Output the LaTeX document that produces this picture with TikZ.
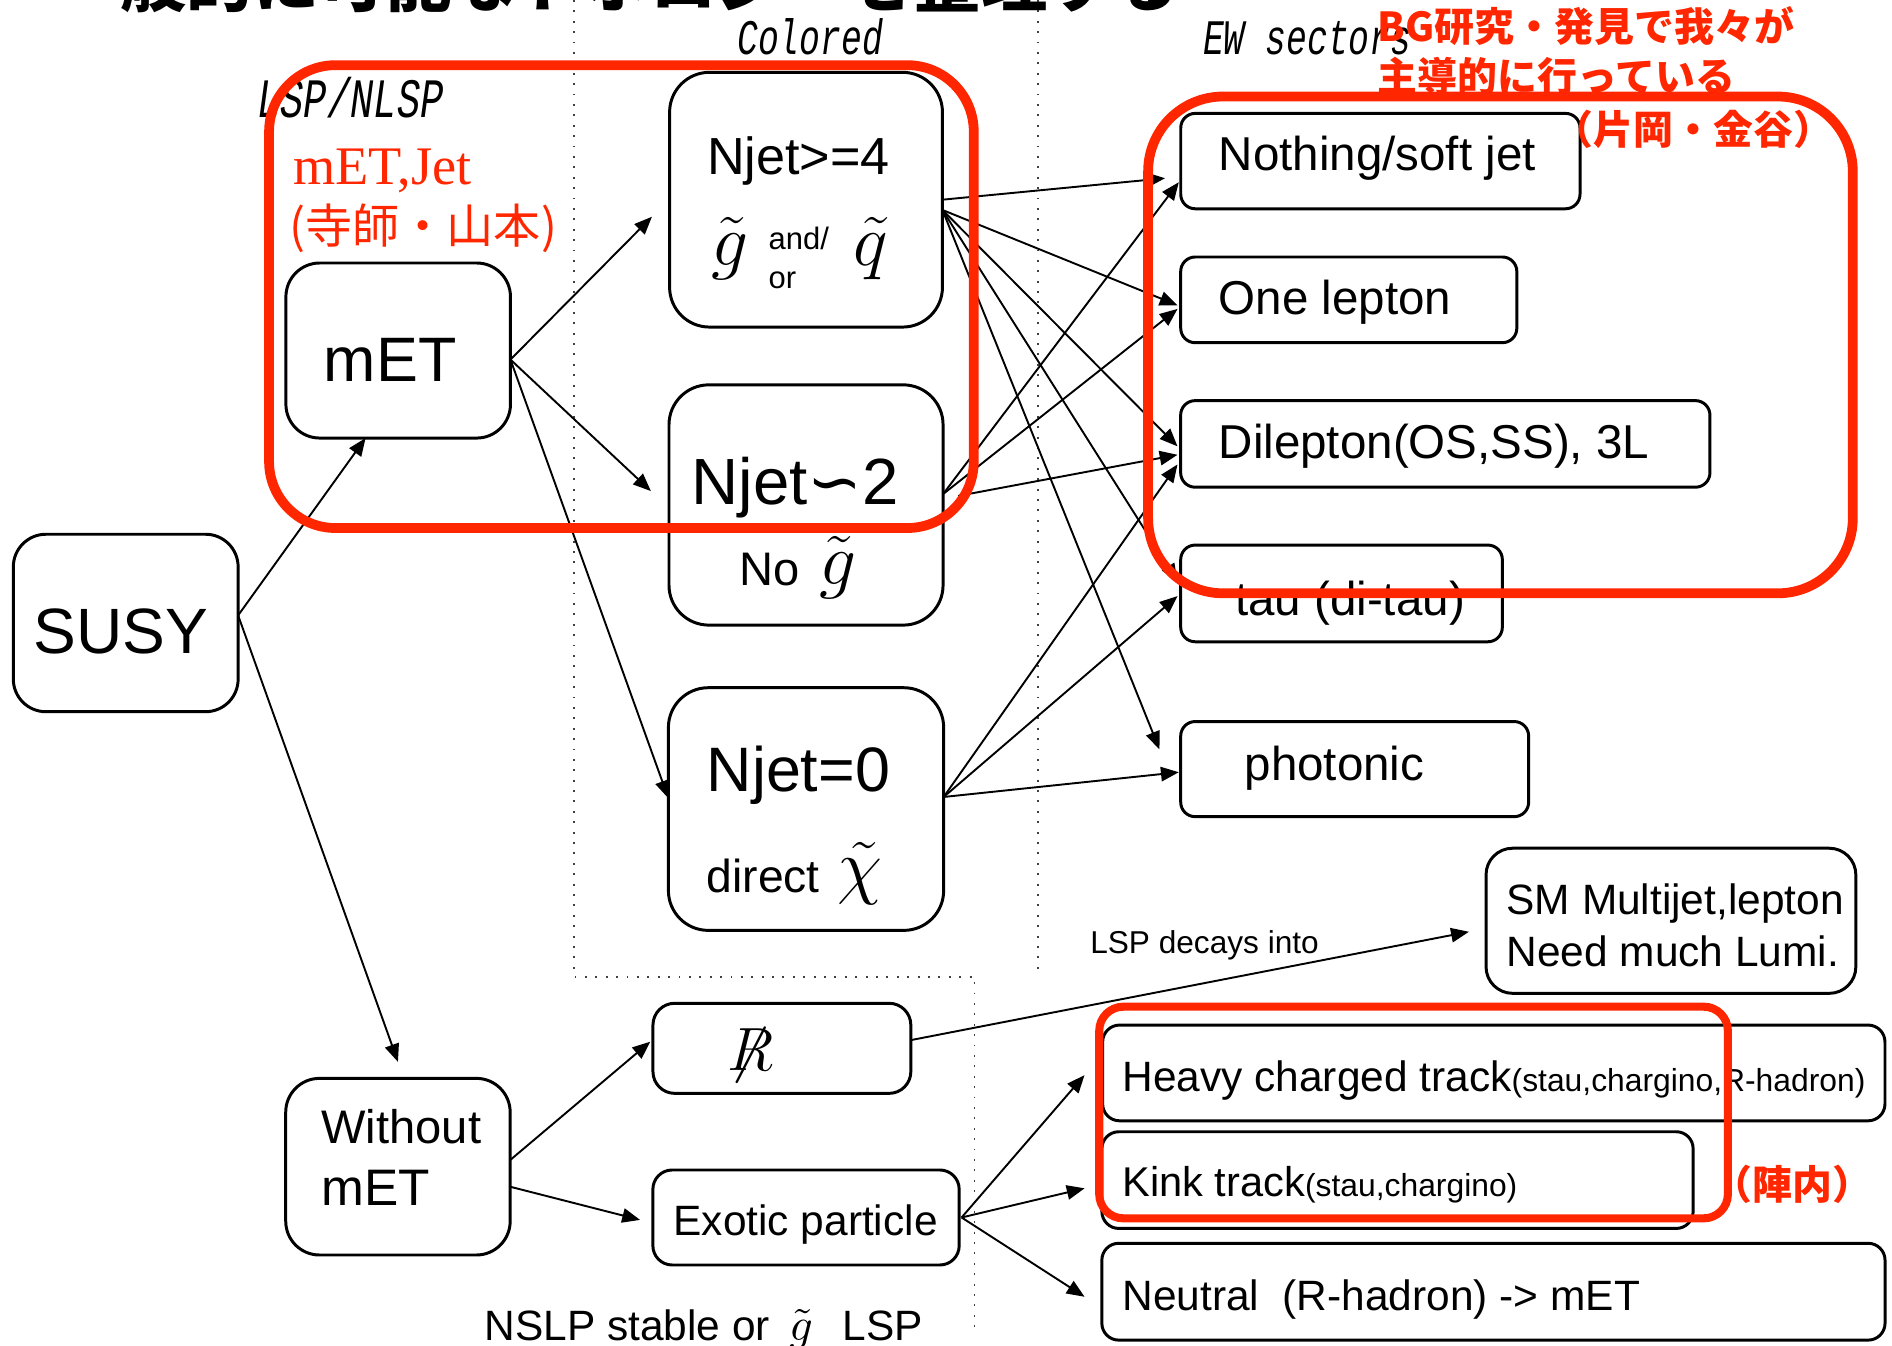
\documentclass[tikz,border=0pt]{standalone}
\usepackage{fontspec}
\setmainfont{Liberation Sans}
\newfontfamily\serifft{Liberation Serif}
\newfontfamily\headfont{Liberation Mono}[FakeStretch=0.7]
\newfontfamily\cjk{Noto Sans CJK JP}
\newfontfamily\djv{DejaVu Sans}
\usetikzlibrary{arrows.meta}
\definecolor{redc}{RGB}{255,38,0}
\newcommand\fsz[1]{\fontsize{#1}{#1}\selectfont}
\begin{document}
\begin{tikzpicture}[x=0.01cm,y=-0.01cm,
  bx/.style={draw, line width=0.7pt, inner sep=0pt, outer sep=0pt},
  arr/.style={line width=0.45pt, -{Triangle[length=4.2pt,width=3.4pt]}},
  lab/.style={inner sep=0pt, outer sep=0pt, anchor=base west},
  labc/.style={inner sep=0pt, outer sep=0pt, anchor=base},
  redbox/.style={draw=redc, line width=2.3pt},
  dots/.style={dotted, line width=0.45pt, black!75},
  redtxt/.style={text=redc}
]
\useasboundingbox (0,0) rectangle (1568,1115);

% dotted separators
\draw[dots] (475.7,0) -- (475.7,809.4) -- (807.6,809.4) -- (807.6,1099.5);
\draw[dots] (860.3,0) -- (860.3,809.4);

% title (cut at the top)
\node[lab] (title) at (100,5) {\cjk\bfseries\fsz{15.6}般的に可能なトポロジーを整理する};

% headings
\node[lab] (hcol) at (611,45) {\headfont\itshape\fsz{11.7}Colored};
\node[lab] (hlsp) at (213,97) {\headfont\itshape\fsz{13.1}LSP/NLSP};
\node[lab] (hew) at (997,45) {\headfont\itshape\fsz{11.7}EW sectors};

% boxes
\node[bx, rounded corners=0.27cm, minimum width=1.862cm, minimum height=1.47cm] (susy) at (104.2,516.3) {};
\node[bx, rounded corners=0.28cm, minimum width=1.86cm, minimum height=1.45cm] (met) at (330,290.5) {};
\node[bx, rounded corners=0.33cm, minimum width=2.26cm, minimum height=2.11cm] (n4) at (668,165.5) {};
\node[bx, rounded corners=0.33cm, minimum width=2.27cm, minimum height=1.99cm] (n2) at (668,418.5) {};
\node[bx, rounded corners=0.33cm, minimum width=2.28cm, minimum height=2.01cm] (n0) at (668,670.5) {};
\node[bx, rounded corners=0.12cm, minimum width=3.307cm, minimum height=0.79cm] (nothing) at (1144,133.5) {};
\node[bx, rounded corners=0.12cm, minimum width=2.784cm, minimum height=0.71cm] (one) at (1117.8,248.5) {};
\node[bx, rounded corners=0.12cm, minimum width=4.384cm, minimum height=0.717cm] (dil) at (1197.8,367.9) {};
\node[bx, rounded corners=0.12cm, minimum width=2.664cm, minimum height=0.801cm] (tau) at (1111.8,491.8) {};
\node[bx, rounded corners=0.12cm, minimum width=2.882cm, minimum height=0.788cm] (pho) at (1122.7,637.4) {};
\node[bx, rounded corners=0.22cm, minimum width=3.063cm, minimum height=1.202cm] (sm) at (1384.8,763.1) {};
\node[bx, rounded corners=0.18cm, minimum width=2.136cm, minimum height=0.746cm] (rs) at (648,868.8) {};
\node[bx, rounded corners=0.16cm, minimum width=2.537cm, minimum height=0.787cm] (exo) at (668,1009) {};
\node[bx, rounded corners=0.28cm, minimum width=1.859cm, minimum height=1.463cm] (wo) at (329.8,966.9) {};
\node[bx, rounded corners=0.14cm, minimum width=6.48cm, minimum height=0.793cm] (heavy) at (1238,889.2) {};
\node[bx, rounded corners=0.14cm, minimum width=4.897cm, minimum height=0.801cm] (kink) at (1158.2,978) {};
\node[bx, rounded corners=0.14cm, minimum width=6.487cm, minimum height=0.802cm] (neutral) at (1237.7,1070.5) {};

% box texts
\node[labc] (tsusy) at (100,542) {\fsz{15.1}SUSY};
\node[lab] (tmet) at (268.5,316) {\fsz{14.8}mET};
\node[lab] (tn4) at (586,145) {\fsz{12.3}Njet>=4};
\node[lab] (tg1) at (590,220) {\fsz{16.5}$\tilde{g}$};
\node[lab] (tand) at (637,207) {\fsz{7.3}and/};
\node[lab] (tor) at (637,239) {\fsz{7.3}or};
\node[lab] (tq) at (707,220) {\fsz{16.5}$\tilde{q}$};
\node[lab] (tn2) at (573,418.5) {\fsz{15.4}Njet{\djv ∽}2};
\node[lab] (tno) at (612.5,485) {\fsz{11.1}No};
\node[lab] (tg2) at (679,484) {\fsz{16.5}$\tilde{g}$};
\node[lab] (tn0) at (585.7,656) {\fsz{14.8}Njet=0};
\node[lab] (tdir) at (585.7,740) {\fsz{10.9}direct};
\node[lab] (tchi) at (694,738) {\fsz{16.5}$\tilde{\chi}$};
\node[lab] (tnoth) at (1010,141) {\fsz{11.2}Nothing/soft jet};
\node[lab] (tone) at (1010,260.5) {\fsz{11.2}One lepton};
\node[lab] (tdil) at (1010,380) {\fsz{11.2}Dilepton(OS,SS), 3L};
\node[lab] (ttau) at (1023.6,510) {\fsz{11.2}tau (di-tau)};
\node[lab] (tpho) at (1031.5,646.5) {\fsz{11.2}photonic};
\node[lab] (tsm1) at (1248.6,758) {\fsz{10}SM Multijet,lepton};
\node[lab] (tsm2) at (1248.6,801) {\fsz{10}Need much Lumi.};
\node[lab] (trs) at (603,887) {\fsz{15.5}$\not\mathrel{R}$};
\node[lab] (texo) at (558.2,1023.6) {\fsz{10}Exotic particle};
\node[lab] (two1) at (266.4,947.6) {\fsz{11.1}Without};
\node[lab] (two2) at (266.4,998.7) {\fsz{12.1}mET};
\node[lab] (theavy) at (930.3,904.8) {\fsz{10}Heavy charged track{\fsz{7.5}(stau,chargino,R-hadron)}};
\node[lab] (tkink) at (930.3,991.8) {\fsz{9.8}Kink track{\fsz{7.5}(stau,chargino)}};
\node[lab] (tneu) at (930.3,1085.7) {\fsz{10}Neutral\ \ (R-hadron) -> mET};
\node[lab] (tlspd) at (903.6,790) {\fsz{7.45}LSP decays into};
\node[lab] (tnslp) at (401.7,1110.6) {\fsz{10}NSLP stable or\hspace{4.5pt}{\fsz{11.4}$\tilde{g}$}\hspace{7pt}LSP};

% connectors
\coordinate (sf) at ([yshift=0.063cm]susy.east);
\draw[arr] (sf) -- ([xshift=-0.27cm]met.south);
\draw[arr] (sf) -- ([yshift=0.137cm]wo.north);
\coordinate (mf) at ([yshift=-0.075cm]met.east);
\draw[arr] (mf) -- ([xshift=-0.146cm,yshift=-0.141cm]n4.west);
\draw[arr] (mf) -- ([xshift=-0.15cm,yshift=0.115cm]n2.west);
\draw[arr] (mf) -- ([yshift=0.089cm]n0.west);

\coordinate (f4) at ([yshift=-0.085cm]n4.east);
\coordinate (f2) at ([yshift=0.09cm]n2.east);
\coordinate (f2b) at ([xshift=0.125cm,yshift=0.075cm]n2.east);
\coordinate (f0) at ([yshift=0.1cm]n0.east);
\draw[arr] (n4.east) -- ([xshift=-0.13cm,yshift=-0.142cm]nothing.west);
\draw[arr] (f2) -- ([xshift=-0.016cm,yshift=-0.175cm]nothing.west);
\draw[arr] (f4) -- ([xshift=-0.026cm,yshift=-0.045cm]one.west);
\draw[arr] (f2) -- ([xshift=-0.026cm,yshift=-0.075cm]one.west);
\draw[arr] (f4) -- ([xshift=-0.026cm,yshift=-0.02cm]dil.west);
\draw[arr] (f2b) -- ([xshift=-0.026cm,yshift=-0.09cm]dil.west);
\draw[arr] (f0) -- ([xshift=-0.026cm,yshift=-0.17cm]dil.west);
\draw[arr] (f4) -- ([xshift=-0.026cm,yshift=0.098cm]tau.west);
\draw[arr] (f0) -- ([xshift=-0.026cm,yshift=-0.022cm]tau.west);
\draw[arr] (f4) -- ([xshift=-0.176cm,yshift=0.164cm]pho.west);
\draw[arr] (f0) -- ([xshift=-0.016cm,yshift=-0.026cm]pho.west);

\draw[arr] ([yshift=0.055cm]wo.east) -- ([xshift=-0.022cm,yshift=0.055cm]rs.west);
\draw[arr] ([yshift=-0.166cm]wo.east) -- ([xshift=-0.106cm,yshift=-0.02cm]exo.west);
\draw[arr] ([yshift=0.068cm]rs.east) -- ([xshift=-0.142cm,yshift=-0.091cm]sm.west);
\coordinate (fe) at ([xshift=0.02cm]exo.east);
\draw[arr] (fe) -- ([xshift=-0.15cm,yshift=-0.018cm]heavy.west);
\draw[arr] (fe) -- ([xshift=-0.143cm,yshift=-0.068cm]kink.west);
\draw[arr] (fe) -- ([xshift=-0.143cm,yshift=-0.042cm]neutral.west);

% red annotations
\node[lab, redtxt] (rmj) at (243,153) {\serifft\fsz{12.8}mET,Jet};
\node[lab, redtxt] (rts) at (240,202) {\cjk\fsz{11.1}(寺師・山本)};
\node[lab, redtxt] (rbg) at (1142,34) {\cjk\bfseries\fsz{9.4}BG研究・発見で我々が};
\node[lab, redtxt] (rsd) at (1142,76) {\cjk\bfseries\fsz{9.4}主導的に行っている};
\node[labc, redtxt] (rkk) at (1403.5,120) {\cjk\bfseries\fsz{9.4}（片岡・金谷）};
\node[labc, redtxt] (rjn) at (1485.6,994) {\cjk\bfseries\fsz{9.4}（陣内）};
\draw[redbox, rounded corners=0.55cm] (223,54) rectangle (807,437.6);
\draw[redbox, rounded corners=0.62cm] (951.5,80) rectangle (1535.5,491.7);
\draw[redbox, line width=1.9pt, rounded corners=0.2cm] (911,834.3) rectangle (1432,1009.7);
\end{tikzpicture}
\end{document}
